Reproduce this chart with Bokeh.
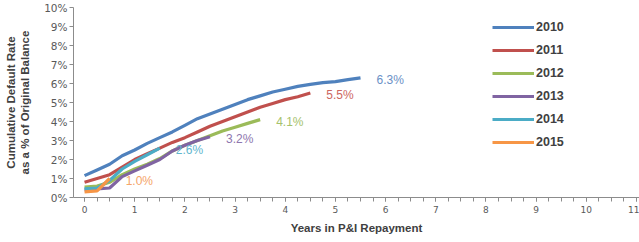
from bokeh.plotting import figure
from bokeh.models import Range1d, FixedTicker, Legend, LegendItem, ColumnDataSource
from bokeh.core.properties import value
from bokeh.embed import file_html
from bokeh.resources import INLINE

# ---- data (cumulative default rate %, quarterly, years in P&I repayment) ----
years = ["2010", "2011", "2012", "2013", "2014", "2015"]
colors = ["#4F81BD", "#C0504D", "#9BBB59", "#8064A2", "#4BACC6", "#F79646"]
label_colors = ["#6A90C6", "#CC6662", "#A6C26C", "#8E76AE", "#5FB6CE", "#F5A56A"]

quarters = [0, 0.25, 0.5, 0.75, 1.0, 1.25, 1.5, 1.75, 2.0, 2.25, 2.5, 2.75, 3.0,
            3.25, 3.5, 3.75, 4.0, 4.25, 4.5, 4.75, 5.0, 5.25, 5.5]

rate_2010 = [1.15, 1.45, 1.75, 2.2, 2.5, 2.85, 3.15, 3.45, 3.8, 4.15, 4.4, 4.65,
             4.9, 5.15, 5.35, 5.55, 5.7, 5.85, 5.95, 6.05, 6.1, 6.2, 6.3]
rate_2011 = [0.8, 1.0, 1.2, 1.6, 2.0, 2.3, 2.6, 2.9, 3.15, 3.45, 3.75, 4.0,
             4.25, 4.5, 4.75, 4.95, 5.15, 5.3, 5.5]
rate_2012 = [0.55, 0.6, 0.8, 1.2, 1.5, 1.75, 2.05, 2.45, 2.75, 3.0, 3.25, 3.5,
             3.7, 3.9, 4.1]
rate_2013 = [0.4, 0.45, 0.5, 1.1, 1.4, 1.7, 2.0, 2.45, 2.75, 3.0, 3.2]
rate_2014 = [0.45, 0.5, 0.9, 1.5, 1.9, 2.25, 2.6]
rate_2015 = [0.3, 0.35, 1.0]
series = [rate_2010, rate_2011, rate_2012, rate_2013, rate_2014, rate_2015]

end_labels = ["6.3%", "5.5%", "4.1%", "3.2%", "2.6%", "1.0%"]

y_ticks = list(range(0, 11))
y_tick_labels = {t: f"{t}%" for t in y_ticks}
x_ticks = list(range(0, 12))

FONT = "Liberation Sans"

p = figure(width=639, height=242, output_backend="svg", toolbar_location=None,
           x_range=Range1d(-0.22, 11.06), y_range=Range1d(0, 10),
           min_border_left=73, min_border_right=0, min_border_top=7,
           min_border_bottom=45)
p.outline_line_color = None
p.xgrid.visible = False
p.ygrid.visible = False
p.background_fill_color = "white"
p.border_fill_color = "white"

items = []
for yr, c, lc, vals, lab in zip(years, colors, label_colors, series, end_labels):
    xs = quarters[:len(vals)]
    r = p.line(xs, vals, line_color=c, line_width=3.2)
    items.append(LegendItem(label=yr, renderers=[r]))
    src = ColumnDataSource(dict(x=[xs[-1]], y=[vals[-1]], t=[lab]))
    p.text("x", "y", "t", source=src, text_color=lc, text_font=value(FONT),
           text_font_size="12px", text_baseline="middle", text_align="left",
           x_offset=16, y_offset=2)

legend = Legend(items=items, location=(419, 45), orientation="vertical")
legend.background_fill_alpha = 0
legend.border_line_color = None
legend.padding = 0
legend.margin = 0
legend.spacing = 3
legend.glyph_width = 42
legend.glyph_height = 20
legend.label_height = 20
legend.label_standoff = 2
legend.label_text_font = FONT
legend.label_text_font_size = "12.5px"
legend.label_text_font_style = "bold"
legend.label_text_color = "#404040"
p.add_layout(legend)

# y axis
ya = p.yaxis[0]
ya.ticker = FixedTicker(ticks=y_ticks)
ya.major_label_overrides = y_tick_labels
ya.minor_tick_line_color = None
ya.major_tick_out = 4
ya.major_tick_in = 0
ya.major_label_standoff = 2
ya.major_label_text_font = "DejaVu Sans"
ya.major_label_text_font_size = "10.5px"
ya.major_label_text_color = "#595959"
ya.axis_line_color = "#8C8C8C"
ya.major_tick_line_color = "#8C8C8C"
ya.axis_label = "Cumulative Default Rate\nas a % of Original Balance"
ya.axis_label_text_font = FONT
ya.axis_label_text_font_size = "11.5px"
ya.axis_label_text_font_style = "bold"
ya.axis_label_text_color = "#404040"
ya.axis_label_standoff = 10

# x axis
xa = p.xaxis[0]
xa.ticker = FixedTicker(ticks=x_ticks,
                        minor_ticks=[i * 0.25 for i in range(0, 45)])
xa.major_tick_out = 4
xa.major_tick_in = 0
xa.minor_tick_out = 4
xa.minor_tick_in = 0
xa.major_label_standoff = 4
xa.major_label_text_font = "DejaVu Sans"
xa.major_label_text_font_size = "9px"
xa.major_label_text_color = "#595959"
xa.axis_line_color = "#8C8C8C"
xa.major_tick_line_color = "#8C8C8C"
xa.minor_tick_line_color = "#8C8C8C"
xa.axis_label = "Years in P&I Repayment"
xa.axis_label_text_font = FONT
xa.axis_label_text_font_size = "11.5px"
xa.axis_label_text_font_style = "bold"
xa.axis_label_text_color = "#404040"
xa.axis_label_standoff = 6

open("out.html", "w").write(file_html(p, INLINE))
